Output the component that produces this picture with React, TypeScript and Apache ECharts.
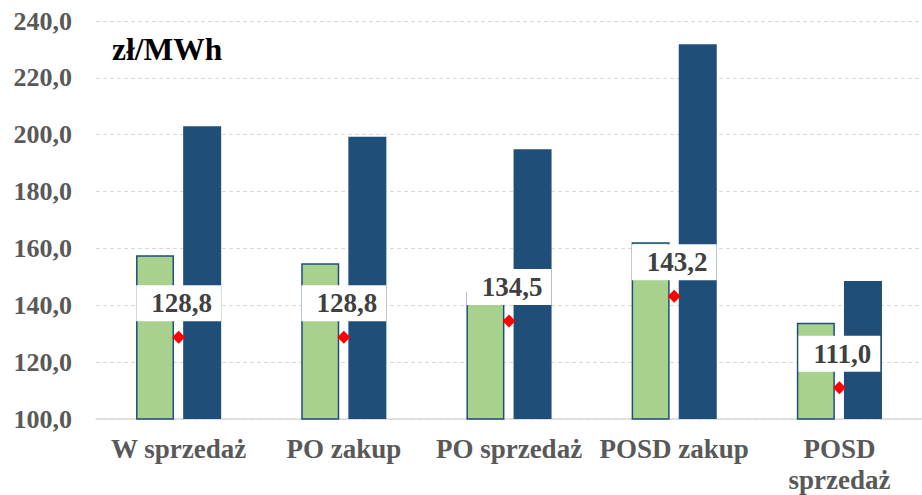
import React, { useEffect, useRef } from "react";
import * as echarts from "echarts";

const categories = ["W sprzedaż", "PO zakup", "PO sprzedaż", "POSD zakup", "POSD\nsprzedaż"];
const greenValues = [157.6, 154.8, 144.8, 162.2, 133.9];
const blueValues = [203.0, 199.3, 194.9, 231.8, 148.5];
const markerValues = [128.8, 128.8, 134.5, 143.2, 111.0];
const yTicks = { min: 100, max: 240, interval: 20 };
const unitLabel = "zł/MWh";

const fmt = (v: number) => v.toFixed(1).replace(".", ",");

export default function App() {
  const ref = useRef<HTMLDivElement>(null);
  useEffect(() => {
    if (!ref.current) return;
    const chart = echarts.init(ref.current, null, { renderer: "svg" });
    const font = "'Liberation Serif', 'Times New Roman', serif";
    chart.setOption({
      animation: false,
      backgroundColor: "#ffffff",
      grid: { left: 96, width: 829, top: 21, bottom: 75, containLabel: false },
      graphic: [
        {
          type: "text",
          left: 112,
          top: 33,
          style: {
            text: unitLabel,
            fontFamily: font,
            fontWeight: "bold",
            fontSize: 31.5,
            fill: "#000000",
          },
        },
      ],
      xAxis: {
        type: "category",
        data: categories,
        axisLine: { show: true, lineStyle: { color: "#D9D9D9", width: 1.5 } },
        axisTick: { show: false },
        axisLabel: {
          fontFamily: font,
          fontWeight: "bold",
          fontSize: 27,
          color: "#595959",
          margin: 14,
          lineHeight: 31,
          interval: 0,
        },
      },
      yAxis: {
        type: "value",
        min: yTicks.min,
        max: yTicks.max,
        interval: yTicks.interval,
        axisLine: { show: false },
        axisTick: { show: false },
        splitLine: { show: true, lineStyle: { color: "#D9D9D9", type: [4, 3], width: 1 } },
        axisLabel: {
          fontFamily: font,
          fontWeight: "bold",
          fontSize: 26,
          color: "#595959",
          margin: 24,
          formatter: (v: number) => fmt(v),
        },
      },
      series: [
        {
          type: "bar",
          data: greenValues,
          barWidth: 38,
          barGap: "24%",
          itemStyle: { color: "#A9D18E", borderColor: "#1F4E79", borderWidth: 1.5 },
          z: 2,
        },
        {
          type: "bar",
          data: blueValues,
          barWidth: 38,
          itemStyle: { color: "#1F4E79" },
          z: 2,
        },
        {
          type: "scatter",
          data: markerValues,
          symbol: "diamond",
          symbolSize: 13,
          itemStyle: { color: "#FF0000", opacity: 1 },
          z: 5,
          label: {
            show: true,
            position: "inside",
            offset: [0, -34],
            formatter: (p: any) => fmt(p.value),
            fontFamily: font,
            fontWeight: "bold",
            fontSize: 27,
            color: "#404040",
            backgroundColor: "#FFFFFF",
            padding: [5, 9, 4, 15],
          },
        },
      ],
    });
    return () => chart.dispose();
  }, []);
  return (
    <div
      ref={ref}
      style={{ position: "absolute", left: 0, top: 0, width: 922, height: 495 }}
    />
  );
}
